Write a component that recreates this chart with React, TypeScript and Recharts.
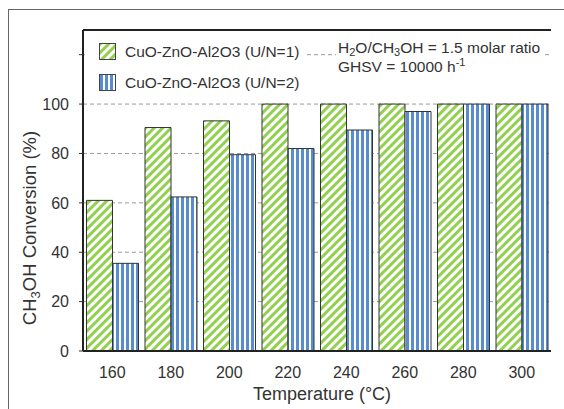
import React from "react";
import {
  BarChart,
  Bar,
  XAxis,
  YAxis,
  CartesianGrid,
  ReferenceLine,
} from "recharts";

// temperatures (°C) on the x axis
const temperatures = [160, 180, 200, 220, 240, 260, 280, 300];
// CH3OH conversion (%) for each catalyst
const conversionUN1 = [61, 90.5, 93.2, 100, 100, 100, 100, 100];
const conversionUN2 = [35.5, 62.4, 79.5, 82, 89.5, 97, 100, 100];
const yTicks = [0, 20, 40, 60, 80, 100, 120];
const yMax = 130;

const seriesNames = ["CuO-ZnO-Al2O3 (U/N=1)", "CuO-ZnO-Al2O3 (U/N=2)"];

const GREEN = "#92d050";
const BLUE = "#5a8dd0";
const FONT = '"Liberation Sans", Arial, sans-serif';

const data = temperatures.map((t, i) => ({
  temp: t,
  un1: conversionUN1[i],
  un2: conversionUN2[i],
}));

function Patterns({ suffix }: { suffix: string }) {
  return (
    <defs>
      <pattern
        id={"green" + suffix}
        width={6}
        height={6}
        patternUnits="userSpaceOnUse"
        patternTransform="rotate(45)"
      >
        <rect width={6} height={6} fill="#fff" />
        <rect width={3} height={6} fill={GREEN} />
      </pattern>
      <pattern
        id={"blue" + suffix}
        width={5}
        height={5}
        patternUnits="userSpaceOnUse"
      >
        <rect width={5} height={5} fill="#fff" />
        <rect x={1} width={3} height={5} fill={BLUE} />
      </pattern>
    </defs>
  );
}

function Swatch({ kind }: { kind: string }) {
  return (
    <svg width={17} height={17} style={{ display: "block" }}>
      <Patterns suffix={"-lg"} />
      <rect
        x={0.5}
        y={0.5}
        width={16}
        height={16}
        fill={`url(#${kind}-lg)`}
        stroke="#444"
      />
    </svg>
  );
}

function LegendBox() {
  const kinds = ["green", "blue"];
  return (
    <div
      style={{
        position: "absolute",
        left: 85,
        top: 36,
        background: "#fff",
        padding: "0 8px 0 14px",
        fontSize: 15.5,
        color: "#333",
      }}
    >
      {seriesNames.map((name, i) => (
        <div
          key={name}
          style={{ display: "flex", alignItems: "center", height: 31 }}
        >
          <Swatch kind={kinds[i]} />
          <span style={{ marginLeft: 9 }}>{name}</span>
        </div>
      ))}
    </div>
  );
}

function YLabel() {
  return (
    <text
      transform="translate(36,228) rotate(-90)"
      textAnchor="middle"
      fontSize={18.5}
      fill="#333"
      fontFamily={FONT}
    >
      CH
      <tspan dy={4} fontSize={13}>
        3
      </tspan>
      <tspan dy={-4}>OH Conversion (%)</tspan>
    </text>
  );
}

function XLabel() {
  return (
    <text
      x={322}
      y={400}
      textAnchor="middle"
      fontSize={18}
      fill="#333"
      fontFamily={FONT}
    >
      Temperature (°C)
    </text>
  );
}

const subStyle = {
  fontSize: 11,
  lineHeight: 0,
  position: "relative" as const,
  top: 3,
  verticalAlign: "baseline",
};
const supStyle = { ...subStyle, top: -6 };

export default function App() {
  return (
    <div
      style={{
        position: "absolute",
        left: 0,
        top: 0,
        width: 564,
        height: 409,
        background: "#fff",
        overflow: "hidden",
        fontFamily: FONT,
      }}
    >
      {/* figure frame, only the left and top edges fall inside the picture */}
      <div
        style={{
          position: "absolute",
          left: 8,
          top: 9,
          width: 700,
          height: 700,
          borderLeft: "1.5px solid #666",
          borderTop: "1.5px solid #666",
        }}
      />
      <BarChart
        width={564}
        height={409}
        data={data}
        margin={{ top: 30, right: 13, bottom: 0, left: 0 }}
        barCategoryGap={3.5}
        barGap={0}
      >
        <Patterns suffix="" />
        <CartesianGrid
          vertical={false}
          horizontalValues={yTicks.slice(1)}
          strokeDasharray="4 3"
          stroke="#9a9a9a"
        />
        <XAxis
          dataKey="temp"
          height={58}
          tickLine={false}
          axisLine={{ stroke: "#222", strokeWidth: 2 }}
          tick={{ fontSize: 16, fill: "#333", fontFamily: FONT }}
          tickMargin={10}
          label={{ content: () => <XLabel /> }}
        />
        <YAxis
          width={83}
          domain={[0, yMax]}
          ticks={yTicks}
          interval={0}
          tickFormatter={(v: number) => (v === 120 ? "" : String(v))}
          tickSize={4}
          tickMargin={10}
          tickLine={{ stroke: "#333" }}
          axisLine={{ stroke: "#222", strokeWidth: 2 }}
          tick={{ fontSize: 16, fill: "#333", fontFamily: FONT }}
          label={{ content: () => <YLabel /> }}
        />
        <YAxis
          yAxisId="right"
          orientation="right"
          width={0}
          domain={[0, yMax]}
          tick={false}
          tickLine={false}
          axisLine={{ stroke: "#333", strokeWidth: 1.5 }}
        />
        <ReferenceLine
          y={yMax}
          stroke="#222"
          strokeWidth={2}
          ifOverflow="visible"
        />
        <Bar
          dataKey="un1"
          name={seriesNames[0]}
          fill="url(#green)"
          stroke="#333"
          strokeWidth={1}
          isAnimationActive={false}
        />
        <Bar
          dataKey="un2"
          name={seriesNames[1]}
          fill="url(#blue)"
          stroke="#333"
          strokeWidth={1}
          isAnimationActive={false}
        />
      </BarChart>
      <LegendBox />
      <div
        style={{
          position: "absolute",
          left: 336,
          top: 38,
          background: "#fff",
          padding: "0 4px 0 2px",
          fontSize: 15.5,
          lineHeight: "19px",
          color: "#333",
        }}
      >
        <div>
          H<span style={subStyle}>2</span>O/CH
          <span style={subStyle}>3</span>OH = 1.5 molar ratio
        </div>
        <div>
          GHSV = 10000 h<span style={supStyle}>-1</span>
        </div>
      </div>
    </div>
  );
}
